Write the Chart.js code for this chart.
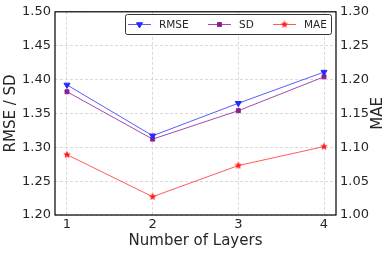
<!DOCTYPE html>
<html>
<head>
<meta charset="utf-8">
<script src="https://cdn.jsdelivr.net/npm/chart.js@4.4.0/dist/chart.umd.min.js"></script>
<style>
  html, body { margin: 0; padding: 0; background: #fff; }
  #wrap { width: 391px; height: 253px; }
</style>
</head>
<body>
<div id="wrap"><canvas id="chart" width="391" height="253"></canvas></div>
<script>
let layers = [1, 2, 3, 4];
let rmse = [1.392, 1.317, 1.365, 1.411];
let sd = [1.382, 1.312, 1.354, 1.404];
let mae = [1.089, 1.027, 1.073, 1.101];
let leftTicks = [1.20, 1.25, 1.30, 1.35, 1.40, 1.45, 1.50];
let rightTicks = [1.00, 1.05, 1.10, 1.15, 1.20, 1.25, 1.30];

let font = 'DejaVu Sans';
let textColor = '#262626';

function pts(ys) {
    return layers.map((x, i) => ({ x: x, y: ys[i] }));
}

// small filled star, chart.js only has the asterisk kind
function makeStar(color, r) {
    let c = document.createElement('canvas');
    let s = Math.ceil(r * 2 + 2);
    c.width = s;
    c.height = s;
    let g = c.getContext('2d');
    g.fillStyle = color;
    g.beginPath();
    for (let i = 0; i < 10; i++) {
        let rad = i % 2 === 0 ? r : r * 0.45;
        let ang = -Math.PI / 2 + i * Math.PI / 5;
        let px = s / 2 + rad * Math.cos(ang);
        let py = s / 2 + rad * Math.sin(ang);
        if (i === 0) g.moveTo(px, py); else g.lineTo(px, py);
    }
    g.closePath();
    g.fill();
    return c;
}
let starImg = makeStar('rgb(255,30,30)', 4);

// box round the plot, right title bottom-to-top, legend in a frame
let extras = {
    id: 'extras',
    afterDraw(chart) {
        let ctx = chart.ctx;
        let a = chart.chartArea;
        ctx.save();
        ctx.strokeStyle = '#000';
        ctx.lineWidth = 1.2;
        ctx.strokeRect(a.left, a.top, a.right - a.left, a.bottom - a.top);

        ctx.fillStyle = textColor;
        ctx.font = '15px "' + font + '"';
        ctx.textAlign = 'center';
        ctx.textBaseline = 'middle';
        ctx.translate(378, (a.top + a.bottom) / 2);
        ctx.rotate(-Math.PI / 2);
        ctx.fillText('MAE', 0, 0);
        ctx.restore();

        // legend
        ctx.save();
        let bx = 125, by = 14, bw = 206, bh = 20;
        ctx.fillStyle = 'rgba(255,255,255,0.9)';
        ctx.strokeStyle = '#333';
        ctx.lineWidth = 1;
        ctx.beginPath();
        ctx.roundRect(bx + 0.5, by + 0.5, bw, bh, 2);
        ctx.fill();
        ctx.stroke();
        ctx.font = '10.5px "' + font + '"';
        ctx.textBaseline = 'middle';
        ctx.textAlign = 'left';
        let starts = [128, 208, 273];
        chart.data.datasets.forEach((ds, i) => {
            let x0 = starts[i];
            let cy = by + bh / 2 + 0.5;
            ctx.strokeStyle = ds.borderColor;
            ctx.lineWidth = 1;
            ctx.beginPath();
            ctx.moveTo(x0, cy);
            ctx.lineTo(x0 + 23, cy);
            ctx.stroke();
            ctx.fillStyle = ds.pointBackgroundColor;
            ctx.strokeStyle = ds.pointBorderColor;
            Chart.helpers.drawPoint(ctx, {
                pointStyle: ds.pointStyle,
                radius: ds.pointRadius,
                rotation: ds.pointRotation || 0,
                borderWidth: 1
            }, x0 + 11.5, cy);
            ctx.fillStyle = textColor;
            ctx.fillText(ds.label, x0 + 31, cy + 0.5);
        });
        ctx.restore();
    }
};

new Chart(document.getElementById('chart').getContext('2d'), {
    type: 'line',
    data: {
        datasets: [{
            label: 'RMSE',
            data: pts(rmse),
            yAxisID: 'y',
            borderColor: 'rgba(50,50,255,0.8)',
            backgroundColor: 'rgba(50,50,255,0.8)',
            pointBackgroundColor: 'rgb(40,40,255)',
            pointBorderColor: 'rgb(40,40,255)',
            pointStyle: 'triangle',
            pointRotation: 180,
            pointRadius: 3.5,
            borderWidth: 1
        }, {
            label: 'SD',
            data: pts(sd),
            yAxisID: 'y',
            borderColor: 'rgba(140,30,150,0.8)',
            backgroundColor: 'rgba(140,30,150,0.8)',
            pointBackgroundColor: 'rgb(140,30,150)',
            pointBorderColor: 'rgb(140,30,150)',
            pointStyle: 'rect',
            pointRadius: 2.8,
            borderWidth: 1
        }, {
            label: 'MAE',
            data: pts(mae),
            yAxisID: 'y1',
            borderColor: 'rgba(255,50,50,0.8)',
            backgroundColor: 'rgba(255,50,50,0.8)',
            pointBackgroundColor: 'rgb(255,30,30)',
            pointBorderColor: 'rgb(255,30,30)',
            pointStyle: starImg,
            pointRadius: 4,
            borderWidth: 1
        }]
    },
    options: {
        responsive: false,
        animation: false,
        layout: { padding: { top: 10, left: 2, right: 0, bottom: 3 } },
        plugins: {
            legend: { display: false },
            tooltip: { enabled: false }
        },
        scales: {
            x: {
                type: 'linear',
                min: 0.86,
                max: 4.14,
                afterBuildTicks: s => { s.ticks = layers.map(v => ({ value: v })); },
                afterFit: s => { s.height = 35; },
                ticks: { color: textColor, font: { family: font, size: 13 }, padding: 2 },
                grid: { color: '#d0d0d0', drawTicks: false, lineWidth: 0.8 },
                border: { display: false, dash: [3, 2] },
                title: { display: true, text: 'Number of Layers', color: textColor, font: { family: font, size: 15 }, padding: { top: 0, bottom: 0 } }
            },
            y: {
                position: 'left',
                min: 1.20,
                max: 1.50,
                afterBuildTicks: s => { s.ticks = leftTicks.map(v => ({ value: v })); },
                afterFit: s => { s.width = 53; },
                ticks: { color: textColor, font: { family: font, size: 13 }, padding: 4, callback: v => v.toFixed(2) },
                grid: { color: '#d0d0d0', drawTicks: false, lineWidth: 0.8 },
                border: { display: false, dash: [3, 2] },
                title: { display: true, text: 'RMSE / SD', color: textColor, font: { family: font, size: 15 }, padding: { top: 0, bottom: 2 } }
            },
            y1: {
                position: 'right',
                min: 1.00,
                max: 1.30,
                afterBuildTicks: s => { s.ticks = rightTicks.map(v => ({ value: v })); },
                afterFit: s => { s.width = 55; },
                ticks: { color: textColor, font: { family: font, size: 13 }, padding: 4, callback: v => v.toFixed(2) },
                grid: { display: false, drawTicks: false },
                border: { display: false }
            }
        }
    },
    plugins: [extras]
});
</script>
</body>
</html>
